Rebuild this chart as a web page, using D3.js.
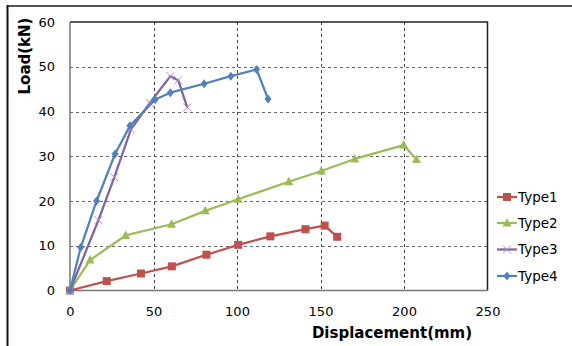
<!DOCTYPE html>
<html><head><meta charset="utf-8">
<script src="https://cdn.jsdelivr.net/npm/d3@7"></script>
<style>body{margin:0;background:#fff}svg{display:block;font-family:"DejaVu Sans",Verdana,sans-serif}</style>
</head><body><svg id="c" width="572" height="346"></svg>
<script>
const xTicks = [0, 50, 100, 150, 200, 250];
const yTicks = [0, 10, 20, 30, 40, 50, 60];
const seriesNames = ["Type1", "Type2", "Type3", "Type4"];
const seriesColors = ["#c0504d", "#9bbb59", "#8064a2", "#4f81bd"];
const type1X = [0, 22, 42.5, 61, 81.7, 100.7, 120, 141, 152.5, 160];
const type1Y = [0, 2.1, 3.8, 5.4, 8.0, 10.2, 12.1, 13.7, 14.5, 12.0];
const type2X = [0, 12, 33.3, 60.8, 81, 100.7, 131, 150.5, 170.5, 199.8, 207.5];
const type2Y = [0, 6.8, 12.3, 14.8, 17.8, 20.4, 24.3, 26.7, 29.4, 32.5, 29.3];
const type3X = [0, 17, 26.5, 36.5, 47.8, 60.1, 64.8, 70.2];
const type3Y = [0, 15.7, 25.3, 36.0, 41.9, 47.9, 47.0, 40.9];
const type4X = [0, 6.4, 15.9, 27, 35.9, 51, 60.1, 80.3, 96.3, 111.7, 118.6];
const type4Y = [0, 9.6, 20.0, 30.5, 36.8, 42.7, 44.2, 46.2, 47.9, 49.4, 42.8];

const xs = [type1X, type2X, type3X, type4X];
const ys = [type1Y, type2Y, type3Y, type4Y];
const markers = ["square", "triangle", "x", "diamond"];

const svg = d3.select("#c");
const L = 70, R = 487.5, T = 22, B = 290.5;
const x = d3.scaleLinear().domain([0, 250]).range([L, R]);
const y = d3.scaleLinear().domain([0, 60]).range([B, T]);

// outer frame
svg.append("line").attr("x1", 7).attr("x2", 572).attr("y1", 6).attr("y2", 6).attr("stroke", "#555").attr("stroke-width", 2);
svg.append("line").attr("x1", 7.5).attr("x2", 7.5).attr("y1", 5).attr("y2", 346).attr("stroke", "#111").attr("stroke-width", 2);

// grid
const g = svg.append("g");
g.selectAll(".gy").data(yTicks.filter(d => d > 0 && d < 60)).enter().append("line")
  .attr("x1", L).attr("x2", R).attr("y1", d => Math.round(y(d)) + 0.5).attr("y2", d => Math.round(y(d)) + 0.5)
  .attr("stroke", "#666").attr("stroke-dasharray", "3,3").attr("stroke-width", 1);
g.selectAll(".gx").data(xTicks.filter(d => d > 0 && d < 250)).enter().append("line")
  .attr("y1", T).attr("y2", B).attr("x1", d => Math.round(x(d)) + 0.5).attr("x2", d => Math.round(x(d)) + 0.5)
  .attr("stroke", "#444").attr("stroke-dasharray", "3,3").attr("stroke-width", 1);

// plot border top/right
svg.append("path").attr("d", `M${L},${T}H${R}V${B}`).attr("fill", "none").attr("stroke", "#222").attr("stroke-width", 1.5);

// axes
const xAxis = svg.append("g").attr("transform", `translate(0,${B})`)
  .call(d3.axisBottom(x).tickValues(xTicks).tickSize(0).tickPadding(16));
const yAxis = svg.append("g").attr("transform", `translate(${L},0)`)
  .call(d3.axisLeft(y).tickValues(yTicks).tickSize(0).tickPadding(15));
[xAxis, yAxis].forEach(a => {
  a.select(".domain").attr("stroke", "#777").attr("stroke-width", 1.5);
  a.selectAll("text").attr("font-size", 13).attr("fill", "#000").attr("font-family", "DejaVu Sans, Verdana, sans-serif");
});
xAxis.select(".domain").attr("d", `M${L},0H${R}`);
yAxis.select(".domain").attr("d", `M0,${B}V${T}`);

// axis titles
svg.append("text").attr("x", 392).attr("y", 338).attr("text-anchor", "middle")
  .attr("font-size", 15).attr("font-weight", "bold").text("Displacement(mm)");
svg.append("text").attr("transform", "translate(30,56) rotate(-90)").attr("text-anchor", "middle")
  .attr("font-size", 15).attr("font-weight", "bold").text("Load(kN)");

function drawMarker(sel, type, color, px, py) {
  if (type === "square") {
    sel.append("rect").attr("x", px - 4).attr("y", py - 4).attr("width", 8).attr("height", 8).attr("fill", color);
  } else if (type === "triangle") {
    sel.append("path").attr("d", `M${px},${py - 5}L${px + 4.5},${py + 3.5}L${px - 4.5},${py + 3.5}Z`).attr("fill", color);
  } else if (type === "x") {
    sel.append("path").attr("d", `M${px - 4},${py - 4}L${px + 4},${py + 4}M${px - 4},${py + 4}L${px + 4},${py - 4}`)
      .attr("stroke", "#a98bc9").attr("stroke-width", 1);
  } else {
    sel.append("path").attr("d", `M${px},${py - 4.5}L${px + 3.5},${py}L${px},${py + 4.5}L${px - 3.5},${py}Z`).attr("fill", color);
  }
}

const line = d3.line().x(d => x(d[0])).y(d => y(d[1]));
for (let s = 0; s < 4; s++) {
  const pts = xs[s].map((v, i) => [v, ys[s][i]]);
  const sg = svg.append("g");
  sg.append("path").datum(pts).attr("d", line).attr("fill", "none")
    .attr("stroke", seriesColors[s]).attr("stroke-width", 2.25).attr("stroke-linejoin", "round");
  pts.forEach(p => drawMarker(sg, markers[s], seriesColors[s], x(p[0]), y(p[1])));
}

// legend
const legY = [197, 223, 249.5, 276];
for (let s = 0; s < 4; s++) {
  const lg = svg.append("g");
  lg.append("line").attr("x1", 497).attr("x2", 517).attr("y1", legY[s]).attr("y2", legY[s])
    .attr("stroke", seriesColors[s]).attr("stroke-width", 2.25);
  drawMarker(lg, markers[s], seriesColors[s], 507, legY[s]);
  lg.append("text").attr("x", 518).attr("y", legY[s] + 4.5).attr("font-size", 13.5).text(seriesNames[s]);
}
</script></body></html>
